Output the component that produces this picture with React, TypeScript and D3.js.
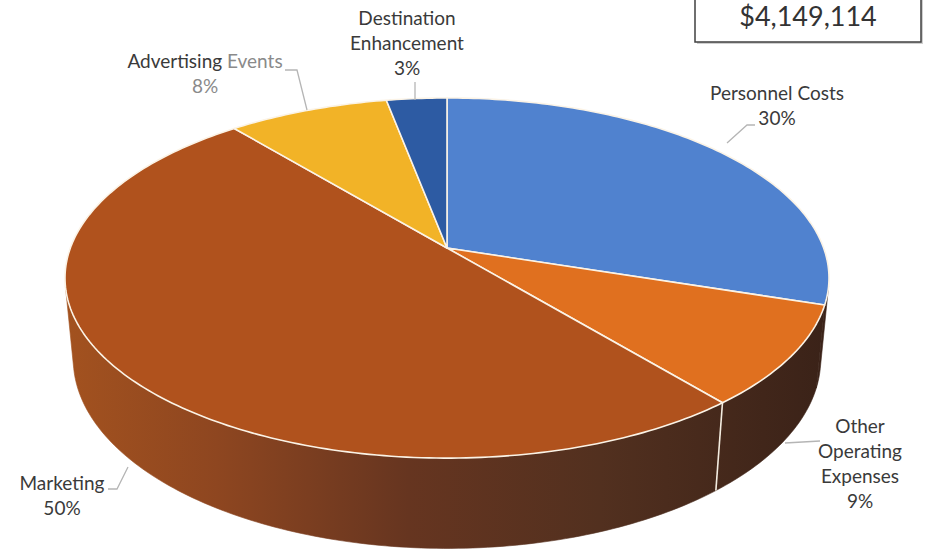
import React from 'react';
import * as d3 from 'd3';

// ---- data ----
const categories = ['Personnel Costs', 'Other Operating Expenses', 'Marketing', 'Advertising Events', 'Destination Enhancement'];
const values = [30, 9, 50, 8, 3];
const percentLabels = ['30%', '9%', '50%', '8%', '3%'];
const labelLines = [['Personnel Costs'], ['Other', 'Operating', 'Expenses'], ['Marketing'], ['Advertising Events'], ['Destination', 'Enhancement']];
const totalLabel = '$4,149,114';

// ---- style / layout ----
const topColors = ['#5082cf', '#e0701f', '#b0521d', '#f2b327', '#2d5ba3'];
const W = 926, H = 553;
const CX = 447, CY = 248;
const ALPHA = (27.7 * Math.PI) / 180;
const DIST = 5.31;
const FOCAL = 2000;
const THICK = 0.245;
const labelPos: [number, number][] = [[777, 100], [860, 433], [62, 490], [205, 68], [407, 25]];
const leaderPts: [number, number][][] = [
  [[755, 125], [747, 125], [727, 143]],
  [[820, 441], [785, 443]],
  [[108, 489], [117, 489], [128, 467]],
  [[285, 70], [297, 70], [307, 110]],
  [[415, 82], [415, 100]],
];

function project(theta: number, z: number): [number, number] {
  const x = Math.sin(theta), y = Math.cos(theta);
  const s = Math.sin(ALPHA), c = Math.cos(ALPHA);
  const depth = DIST + y * c - z * s;
  const up = y * s + z * c;
  return [CX + (FOCAL * x) / depth, CY - (FOCAL * up) / depth];
}

function arcPts(a: number, b: number, z: number): [number, number][] {
  const n = Math.max(4, Math.ceil(Math.abs(b - a) * 60));
  return d3.range(n + 1).map((i) => project(a + ((b - a) * i) / n, z));
}

export default function App() {
  const pie = d3.pie<number>().sort(null).value((d) => d);
  const arcs = pie(values);
  const line = d3.line();
  const vis1 = Math.acos(-1 / (DIST * Math.cos(ALPHA)));
  const vis2 = 2 * Math.PI - vis1;

  const sides: { d: string; key: number }[] = [];
  const sideEdges: [number, number][][] = [];
  arcs.forEach((a, i) => {
    const lo = Math.max(a.startAngle, vis1);
    const hi = Math.min(a.endAngle, vis2);
    if (hi > lo) {
      const pts = [...arcPts(lo, hi, 0), ...arcPts(hi, lo, -THICK)];
      sides.push({ d: line(pts) + 'Z', key: i });
    }
    if (a.endAngle > vis1 + 0.15 && a.endAngle < vis2 - 0.15) {
      sideEdges.push([project(a.endAngle, 0), project(a.endAngle, -THICK)]);
    }
  });

  const tops = arcs.map((a) => {
    const pts: [number, number][] = [[CX, CY], ...arcPts(a.startAngle, a.endAngle, 0)];
    return line(pts) + 'Z';
  });

  const font = "Lato, 'Open Sans', sans-serif";
  const textColor = '#3a3a3a';

  return (
    <svg width={W} height={H} style={{ position: 'absolute', left: 0, top: 0, background: '#fff' }} fontFamily={font}>
      <defs>
        <linearGradient id="sideGrad" gradientUnits="userSpaceOnUse" x1={64} y1={0} x2={830} y2={0}>
          <stop offset="0" stopColor="#a3521f" />
          <stop offset="0.2" stopColor="#8e4620" />
          <stop offset="0.45" stopColor="#663520" />
          <stop offset="0.7" stopColor="#52301f" />
          <stop offset="1" stopColor="#3a2218" />
        </linearGradient>
      </defs>
      <rect width={W} height={H} fill="#fff" />
      {sides.map((s) => (
        <path key={s.key} d={s.d} fill="url(#sideGrad)" stroke="url(#sideGrad)" strokeWidth={0.6} />
      ))}
      {sideEdges.map((e, i) => (
        <path key={i} d={line(e) || ''} stroke="#f3ece0" strokeWidth={1.6} />
      ))}
      {tops.map((d, i) => (
        <path key={i} d={d} fill={topColors[i]} stroke="#fbf3e6" strokeWidth={1.6} strokeLinejoin="round" />
      ))}
      {leaderPts.map((p, i) => (
        <path key={i} d={line(p) || ''} fill="none" stroke="#b5b5b5" strokeWidth={1.3} />
      ))}
      {categories.map((cat, i) => {
        const [x, y] = labelPos[i];
        const lines = labelLines[i];
        const light = i === 3;
        return (
          <text key={cat} x={x} y={y} textAnchor="middle" fontSize={19} fill={textColor}>
            {lines.map((l, j) => (
              <tspan key={j} x={x} dy={j === 0 ? 0 : 25}>
                {light ? (
                  <>
                    <tspan>Advertising </tspan>
                    <tspan fill="#8a8a8a">Events</tspan>
                  </>
                ) : (
                  l
                )}
              </tspan>
            ))}
            <tspan x={x} dy={25} fill={light ? '#8a8a8a' : textColor}>
              {percentLabels[i]}
            </tspan>
          </text>
        );
      })}
      <rect x={697} y={-4} width={226} height={48} fill="#cfcfcf" />
      <rect x={695} y={-6} width={226} height={48} fill="#fff" stroke="#404040" strokeWidth={1.5} />
      <text x={808} y={26} textAnchor="middle" fontSize={27} fill="#333">
        {totalLabel}
      </text>
    </svg>
  );
}
